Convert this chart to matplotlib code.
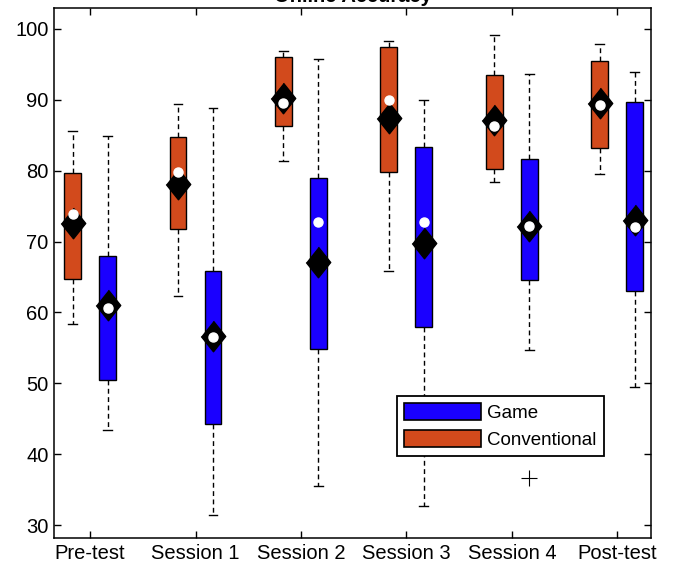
import matplotlib
matplotlib.use("Agg")
import matplotlib.pyplot as plt
from matplotlib.patches import Patch

plt.rcParams['font.family'] = ['Liberation Sans', 'DejaVu Sans']

# sessions on the x axis
sessions = ["Pre-test", "Session 1", "Session 2", "Session 3", "Session 4", "Post-test"]

# Conventional group (orange)
conv_lo = [58.4, 62.3, 81.4, 65.8, 78.4, 79.5]
conv_q1 = [64.7, 71.7, 86.3, 79.8, 80.2, 83.2]
conv_q3 = [79.7, 84.8, 96.0, 97.4, 93.5, 95.4]
conv_hi = [85.6, 89.4, 96.9, 98.3, 99.1, 97.8]
conv_med = [72.6, 78.1, 90.3, 87.4, 87.1, 89.5]
conv_mean = [73.9, 79.8, 89.6, 89.9, 86.3, 89.2]
conv_out = [[], [], [], [], [], []]

# Game group (blue)
game_lo = [43.4, 31.5, 35.6, 32.7, 54.7, 49.5]
game_q1 = [50.5, 44.3, 54.9, 58.0, 64.6, 63.0]
game_q3 = [68.0, 65.8, 78.9, 83.4, 81.7, 89.7]
game_hi = [84.9, 88.8, 95.8, 89.9, 93.6, 93.9]
game_med = [61.1, 56.7, 67.1, 69.8, 72.2, 73.1]
game_mean = [60.6, 56.6, 72.8, 72.8, 72.2, 72.0]
game_out = [[], [], [], [], [36.7], []]

c_game = '#1a00ff'
c_conv = '#d24a1c'


def make_stats(lo, q1, med, q3, hi, out):
    return [dict(whislo=a, q1=b, med=c, q3=d, whishi=e, fliers=f)
            for a, b, c, d, e, f in zip(lo, q1, med, q3, hi, out)]


fig = plt.figure(figsize=(6.73, 5.66), dpi=100)
ax = fig.add_axes([54 / 673, 1 - 538 / 566, 597 / 673, 530.5 / 566])

xs = list(range(1, len(sessions) + 1))
off = 0.166
w = 0.16

for stats, pos, col, meds, means in [
        (make_stats(conv_lo, conv_q1, conv_med, conv_q3, conv_hi, conv_out),
         [x - off for x in xs], c_conv, conv_med, conv_mean),
        (make_stats(game_lo, game_q1, game_med, game_q3, game_hi, game_out),
         [x + off for x in xs], c_game, game_med, game_mean)]:
    ax.bxp(stats, positions=pos, widths=w, patch_artist=True, showfliers=True,
           capwidths=0.085,
           boxprops=dict(facecolor=col, edgecolor='black', linewidth=1.0),
           whiskerprops=dict(color='black', linewidth=1.0, linestyle=(0, (3.5, 2.5))),
           capprops=dict(color='black', linewidth=1.0),
           medianprops=dict(linewidth=0),
           flierprops=dict(marker='+', markersize=12, markeredgecolor='black',
                           markeredgewidth=0.8))
    # big black diamond
    ax.plot(pos, meds, linestyle='none', marker=[(0, 1.25), (1, 0), (0, -1.25), (-1, 0)],
            markersize=22, markerfacecolor='black', markeredgecolor='black', zorder=5)
    # small white dot
    ax.plot(pos, means, linestyle='none', marker='o', markersize=6.5,
            markerfacecolor='white', markeredgecolor='white', zorder=6)

ax.set_xlim(0.658, 6.32)
ax.set_ylim(28.2, 103)
ax.set_xticks(xs)
ax.set_xticklabels(sessions)
ax.set_yticks(range(30, 101, 10))
ax.tick_params(direction='in', length=5, width=1, top=True, right=True,
               labelsize=14.5, pad=4)
for s in ax.spines.values():
    s.set_linewidth(1.1)

# title sits mostly above the top edge, as in the reference
fig.text(352.5 / 673, 1 - 1.5 / 566, "Online Accuracy", ha='center', va='baseline',
         fontsize=14.5, fontweight='bold')

handles = [Patch(facecolor=c_game, edgecolor='black', linewidth=1.2, label='Game'),
           Patch(facecolor=c_conv, edgecolor='black', linewidth=1.2, label='Conventional')]
leg = ax.legend(handles=handles, loc='upper left', bbox_to_anchor=(0.5745, 0.2677),
                borderaxespad=0, fontsize=13.5, fancybox=False, framealpha=1,
                edgecolor='black', handlelength=4.1, handleheight=0.95,
                handletextpad=0.3, labelspacing=0.45, borderpad=0.4)
leg.get_frame().set_linewidth(1.3)

fig.savefig("out.png", dpi=100)
